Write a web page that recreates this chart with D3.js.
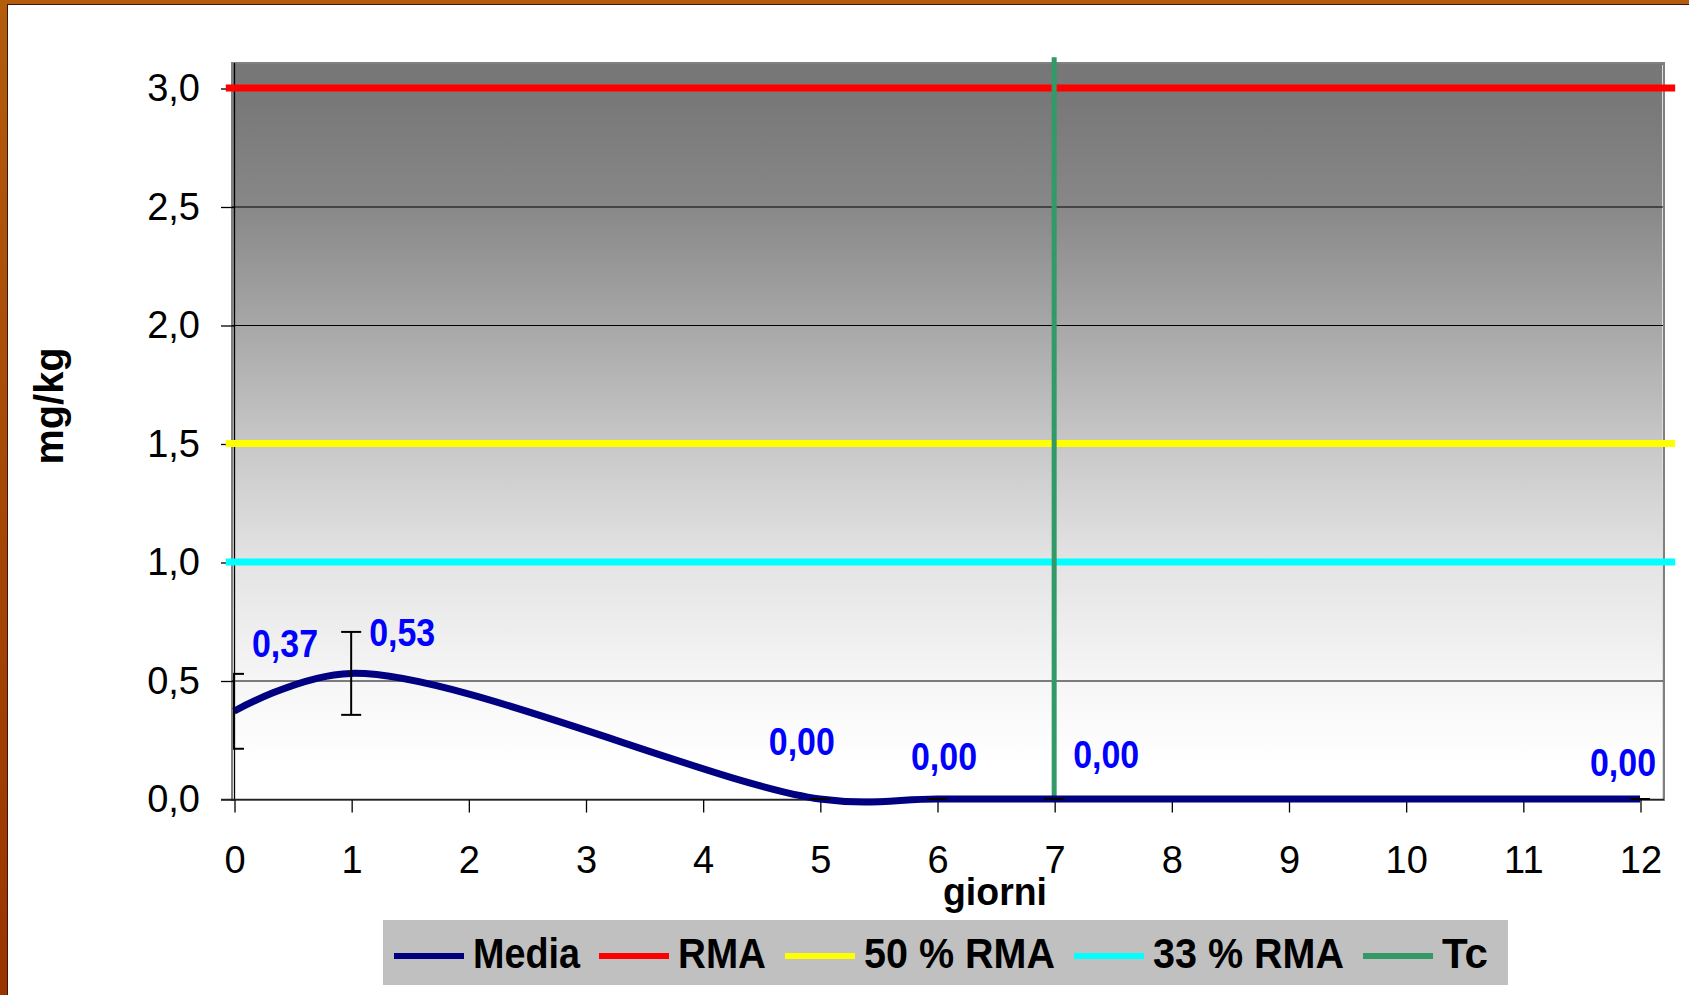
<!DOCTYPE html>
<html>
<head>
<meta charset="utf-8">
<script src="https://cdn.jsdelivr.net/npm/d3@7"></script>
<style>
  body { margin: 0; background: #fff; }
  text { font-family: "Liberation Sans", Arial, sans-serif; }
</style>
</head>
<body>
<svg id="chart" width="1689" height="995"></svg>
<script>
// data
var days = [0, 1, 5, 6, 7, 12];
var media = [0.37, 0.53, 0, 0, 0, 0];
var mediaErr = [0.158, 0.175, 0, 0, 0, 0];
var mediaLabels = ['0,37', '0,53', '0,00', '0,00', '0,00', '0,00'];

var refNames = ['RMA', '50 % RMA', '33 % RMA'];
var refValues = [3.0, 1.5, 1.0];
var refDays = [-0.07, 12.3];

var tcDay = 7;
var tcValues = [0, 3.13];

var xTicks = d3.range(0, 13);
var yTicks = [0, 0.5, 1.0, 1.5, 2.0, 2.5, 3.0];

var legendNames = ['Media', 'RMA', '50 % RMA', '33 % RMA', 'Tc'];

// styling
var colors = {
    'Media': '#000080', 'RMA': '#ff0000', '50 % RMA': '#ffff00',
    '33 % RMA': '#00ffff', 'Tc': '#339966'
};
var labelDx = [18, 18, -51, -26, 19, -50];
var labelDy = [-54, -27, -44, -29, -31, -23];

var plotLeft = 232, plotRight = 1664, plotTop = 63, plotBottom = 800;

var svg = d3.select('#chart');
var x = d3.scaleLinear().domain([0, 12]).range([234, 1640]);
var y = d3.scaleLinear().domain([0, 3]).range([799, 88]);
var comma = function (d) { return d3.format('.1f')(d).replace('.', ','); };

var defs = svg.append('defs');

// brown frame
var wood = defs.append('linearGradient').attr('id', 'wood')
    .attr('x1', 0).attr('y1', 0).attr('x2', 0).attr('y2', 1);
wood.append('stop').attr('offset', 0).attr('stop-color', '#b35c0c');
wood.append('stop').attr('offset', 1).attr('stop-color', '#9a3400');
svg.append('rect').attr('x', 0).attr('y', 0).attr('width', 1689).attr('height', 995)
    .attr('fill', 'url(#wood)');
svg.append('rect').attr('x', 7).attr('y', 4).attr('width', 1689).attr('height', 995)
    .attr('fill', '#3a1606');
svg.append('rect').attr('x', 8).attr('y', 5).attr('width', 1689).attr('height', 995)
    .attr('fill', '#ffffff');

// plot background gradient
var grad = defs.append('linearGradient').attr('id', 'plotbg')
    .attr('x1', 0).attr('y1', 0).attr('x2', 0).attr('y2', 1);
[[0, '#777777'], [0.05, '#787878'], [0.19, '#878787'], [0.36, '#a8a8a8'],
 [0.52, '#c8c8c8'], [0.68, '#e4e4e4'], [0.84, '#f6f6f6'], [0.95, '#ffffff'], [1, '#ffffff']]
    .forEach(function (s) {
        grad.append('stop').attr('offset', s[0]).attr('stop-color', s[1]);
    });

svg.append('rect')
    .attr('x', plotLeft).attr('y', plotTop)
    .attr('width', plotRight - plotLeft).attr('height', plotBottom - plotTop)
    .attr('fill', 'url(#plotbg)')
    .attr('stroke', '#808080').attr('stroke-width', 2);
svg.append('line')
    .attr('x1', plotRight - 1.5).attr('x2', plotRight - 1.5)
    .attr('y1', plotTop + 2).attr('y2', plotBottom)
    .attr('stroke', '#dddddd').attr('stroke-width', 1);

defs.append('clipPath').attr('id', 'plotclip').append('rect')
    .attr('x', 233).attr('y', plotTop).attr('width', plotRight - 233).attr('height', plotBottom - plotTop + 20);

// gridlines
svg.append('g').selectAll('line')
    .data(yTicks.filter(function (d) { return d > 0; }))
    .enter().append('line')
    .attr('x1', plotLeft).attr('x2', plotRight - 1)
    .attr('y1', function (d) { return y(d) + 0.5; })
    .attr('y2', function (d) { return y(d) + 0.5; })
    .attr('stroke', '#000').attr('stroke-width', 1);

// axes
var yAxis = svg.append('g')
    .attr('transform', 'translate(234,0.5)')
    .call(d3.axisLeft(y).tickValues(yTicks).tickSize(13).tickPadding(21).tickFormat(comma));
var xAxis = svg.append('g')
    .attr('transform', 'translate(0.5,' + (y(0) + 0.5) + ')')
    .call(d3.axisBottom(x).tickValues(xTicks).tickSize(13).tickPadding(34).tickFormat(d3.format('d')));
[yAxis, xAxis].forEach(function (a) {
    a.select('.domain').remove();
    a.selectAll('.tick line').attr('stroke', '#000').attr('stroke-width', 1.3);
    a.selectAll('.tick text')
        .attr('font-family', '"Liberation Sans", Arial, sans-serif')
        .attr('font-size', 38).attr('fill', '#000');
});
svg.append('line')
    .attr('x1', 234.5).attr('x2', 234.5).attr('y1', plotTop).attr('y2', y(0) + 1)
    .attr('stroke', '#000').attr('stroke-width', 1.3);
svg.append('line')
    .attr('x1', 221).attr('x2', plotRight).attr('y1', y(0) + 0.5).attr('y2', y(0) + 0.5)
    .attr('stroke', '#222').attr('stroke-width', 1.5);

// reference levels
var refLine = d3.line()
    .x(function (d) { return x(d[0]); })
    .y(function (d) { return y(d[1]); });
refValues.forEach(function (v, i) {
    svg.append('path')
        .attr('d', refLine(refDays.map(function (d) { return [d, v]; })))
        .attr('fill', 'none')
        .attr('stroke', colors[refNames[i]])
        .attr('stroke-width', 7);
});

// Tc vertical line
svg.append('path')
    .attr('d', refLine(tcValues.map(function (v) { return [tcDay, v]; })))
    .attr('fill', 'none')
    .attr('stroke', colors['Tc'])
    .attr('stroke-width', 5);

// media curve
var pts = days.map(function (d, i) { return [d, media[i]]; });
svg.append('path')
    .attr('d', d3.line()
        .x(function (d) { return x(d[0]); })
        .y(function (d) { return y(d[1]); })
        .curve(d3.curveCatmullRom)(pts))
    .attr('fill', 'none')
    .attr('stroke', colors['Media'])
    .attr('stroke-width', 7);

// error bars
var eb = svg.append('g').attr('clip-path', 'url(#plotclip)')
    .attr('stroke', '#000').attr('stroke-width', 2);
days.forEach(function (d, i) {
    var cx = x(d), lo = y(media[i] - mediaErr[i]), hi = y(media[i] + mediaErr[i]);
    eb.append('line').attr('x1', cx).attr('x2', cx).attr('y1', lo).attr('y2', hi);
    eb.append('line').attr('x1', cx - 10).attr('x2', cx + 10).attr('y1', lo).attr('y2', lo);
    eb.append('line').attr('x1', cx - 10).attr('x2', cx + 10).attr('y1', hi).attr('y2', hi);
});

// data labels
svg.append('g').selectAll('text')
    .data(days)
    .enter().append('text')
    .attr('x', function (d, i) { return x(d) + labelDx[i]; })
    .attr('y', function (d, i) { return y(media[i]) + labelDy[i]; })
    .attr('font-size', 38).attr('font-weight', 'bold').attr('fill', '#0000ff')
    .attr('textLength', 66).attr('lengthAdjust', 'spacingAndGlyphs')
    .text(function (d, i) { return mediaLabels[i]; });

// axis titles
svg.append('text')
    .attr('transform', 'translate(63,406) rotate(-90)')
    .attr('text-anchor', 'middle')
    .attr('font-size', 40).attr('font-weight', 'bold')
    .attr('textLength', 117).attr('lengthAdjust', 'spacingAndGlyphs')
    .text('mg/kg');
svg.append('text')
    .attr('x', 943).attr('y', 905)
    .attr('font-size', 39).attr('font-weight', 'bold')
    .attr('textLength', 104).attr('lengthAdjust', 'spacingAndGlyphs')
    .text('giorni');

// legend
var legend = svg.append('g');
legend.append('rect')
    .attr('x', 383).attr('y', 920).attr('width', 1125).attr('height', 65)
    .attr('fill', '#c0c0c0');
var legendTextW = [107, 88, 191, 191, 46];
var lx = 394;
legendNames.forEach(function (name, i) {
    legend.append('line')
        .attr('x1', lx).attr('x2', lx + 70).attr('y1', 956).attr('y2', 956)
        .attr('stroke', colors[name]).attr('stroke-width', 6);
    legend.append('text')
        .attr('x', lx + 79).attr('y', 968)
        .attr('font-size', 42).attr('font-weight', 'bold')
        .attr('textLength', legendTextW[i]).attr('lengthAdjust', 'spacingAndGlyphs')
        .text(name);
    lx += 79 + legendTextW[i] + 19;
});
</script>
</body>
</html>
